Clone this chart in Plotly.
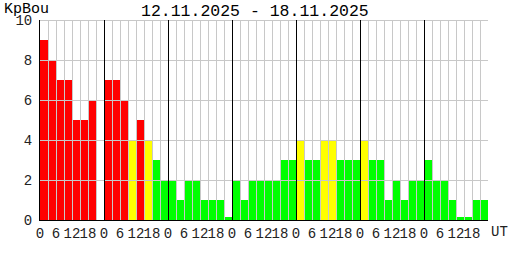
import plotly.graph_objects as go

# ---- data ----
days = ["12.11.2025", "13.11.2025", "14.11.2025", "15.11.2025",
        "16.11.2025", "17.11.2025", "18.11.2025"]
hour_labels = ["0", "6", "12", "18"]
kp_day1 = [9, 8, 7, 7, 5, 5, 6, None]
kp_day2 = [7, 7, 6, 4, 5, 4, 3, 2]
kp_day3 = [2, 1, 2, 2, 1, 1, 1, 0.15]
kp_day4 = [2, 1, 2, 2, 2, 2, 3, 3]
kp_day5 = [4, 3, 3, 4, 4, 3, 3, 3]
kp_day6 = [4, 3, 3, 1, 2, 1, 2, 2]
kp_day7 = [3, 2, 2, 1, 0.15, 0.15, 1, 1]
y_ticks = [0, 2, 4, 6, 8, 10]

kp = kp_day1 + kp_day2 + kp_day3 + kp_day4 + kp_day5 + kp_day6 + kp_day7
n = len(kp)
xs = [i + 0.5 for i in range(n)]


def col(v):
    if v is None:
        return "white"
    if v >= 5:
        return "#ff0000"
    if v >= 4:
        return "#ffff00"
    return "#00ff00"


colors = [col(v) for v in kp]

W, H = 508, 260
L, R, T, B = 40, 20, 20, 40
pw, ph = W - L - R, H - T - B
FONT = "Courier New, Liberation Mono, monospace"

fig = go.Figure()
fig.add_trace(go.Bar(x=xs, y=kp, width=1, marker=dict(color=colors, line=dict(width=0)),
                     showlegend=False, hoverinfo="skip"))

# grid above bars
dx = 0.5 * n / pw
dy = 0.5 * 10 / ph
gray, black = [], []
for yv in y_ticks[1:]:
    gray.append(dict(type="line", xref="x", yref="y", x0=0, x1=n, y0=yv - dy, y1=yv - dy,
                     line=dict(color="#c8c8c8", width=1), layer="above"))
for k in range(1, n + 1):
    is_day = (k % 8 == 0) and k < n
    s = dict(type="line", xref="x", yref="y", x0=k + dx, x1=k + dx, y0=0, y1=10,
             line=dict(color="black" if is_day else "#c8c8c8", width=1), layer="above")
    (black if is_day else gray).append(s)
shapes = gray + black

tickvals = []
ticktext = []
for d in range(len(days)):
    for j, h in enumerate(hour_labels):
        tickvals.append(d * 8 + j * 2)
        ticktext.append(h)

fig.update_layout(
    width=W, height=H,
    margin=dict(l=L, r=R, t=T, b=B, pad=0),
    paper_bgcolor="white", plot_bgcolor="white",
    bargap=0,
    shapes=shapes,
    font=dict(family=FONT, color="black"),
    xaxis=dict(range=[0, n], tickvals=tickvals, ticktext=ticktext, showgrid=False,
               zeroline=False, showline=True, linecolor="black", linewidth=1,
               ticks="", tickfont=dict(size=14, family=FONT, color="#222"),
               tickangle=0, layer="above traces", fixedrange=True),
    yaxis=dict(range=[0, 10], tickvals=y_ticks, showgrid=False, zeroline=False,
               showline=True, linecolor="black", linewidth=1, ticks="",
               ticklabelstandoff=4,
               tickfont=dict(size=14, family=FONT, color="#222"),
               layer="above traces", fixedrange=True),
    annotations=[
        dict(text=f"{days[0]} - {days[-1]}", xref="paper", yref="paper",
             x=(255 - L) / pw, y=(H - B - 11) / ph, xanchor="center", yanchor="middle",
             showarrow=False, font=dict(size=16.5, family=FONT, color="black")),
        dict(text="KpBou", xref="paper", yref="paper",
             x=(2 - L) / pw, y=(H - B - 9) / ph, xanchor="left", yanchor="middle",
             showarrow=False, font=dict(size=15, family=FONT, color="black")),
        dict(text="UT", xref="paper", yref="paper",
             x=(489 - L) / pw, y=-(232 - (H - B)) / ph, xanchor="left", yanchor="middle",
             showarrow=False, font=dict(size=14, family=FONT, color="#222")),
    ],
)

fig.write_html("out.html")
